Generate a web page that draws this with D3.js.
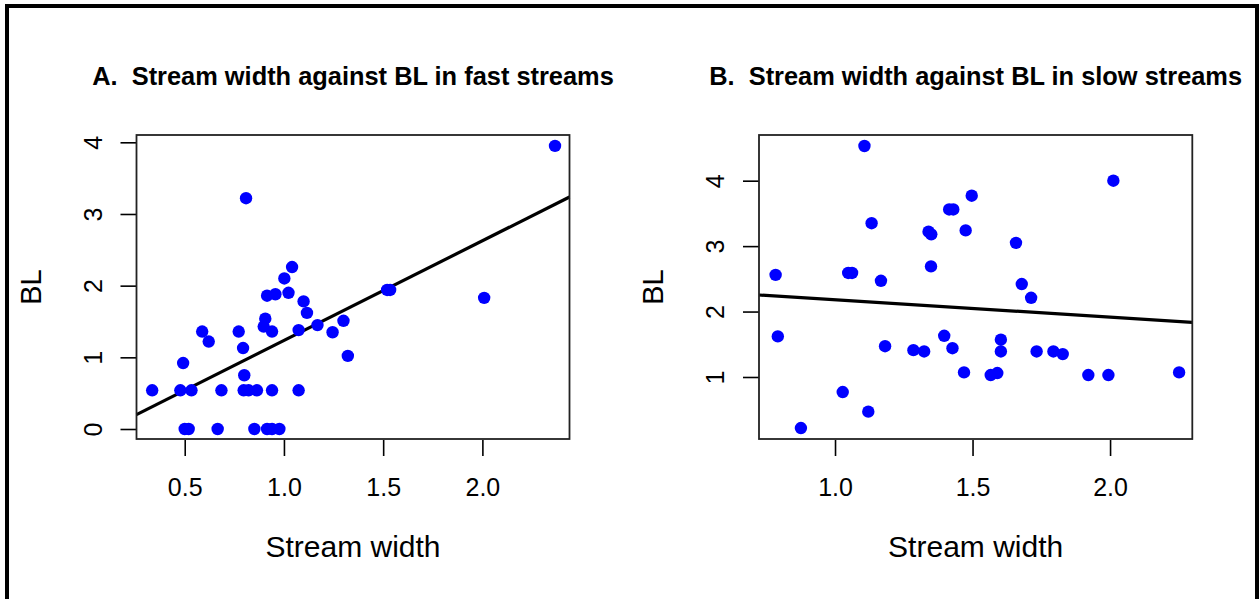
<!DOCTYPE html>
<html>
<head>
<meta charset="utf-8">
<script src="https://cdn.jsdelivr.net/npm/d3@7"></script>
<style>
  html, body { margin: 0; padding: 0; background: #fff; }
  svg { display: block; }
  text { font-family: "Liberation Sans", Arial, sans-serif; fill: #000; }
</style>
</head>
<body>
<svg id="chart" width="1260" height="599"></svg>
<script>
// ---- Data ----
const fastWidth = [0.809,1.041,1.002,1.023,0.915,0.957,1.099,1.116,0.906,0.898,0.940,1.074,0.588,0.621,0.772,0.794,0.492,0.800,
  0.336,0.478,0.534,0.685,0.797,0.822,0.864,0.940,1.074,
  0.500,0.520,0.666,0.851,0.915,0.940,0.977,
  2.366,1.520,1.535,2.009,1.169,1.300,1.245,1.322];
const fastBL = [3.22,2.26,2.10,1.90,1.86,1.88,1.78,1.62,1.54,1.43,1.36,1.38,1.36,1.22,1.36,1.13,0.92,0.75,
  0.54,0.54,0.54,0.54,0.54,0.54,0.54,0.54,0.54,
  0,0,0,0,0,0,0,
  3.95,1.94,1.94,1.83,1.45,1.51,1.35,1.02];
const fastIntercept = -0.156;
const fastSlope = 1.391;

const slowWidth = [1.107,1.497,1.415,1.430,1.133,1.340,1.350,1.475,1.349,0.784,1.048,1.062,1.167,0.792,1.182,1.285,1.324,1.397,1.427,1.469,1.028,1.121,0.876,
  2.012,1.658,1.679,1.713,1.603,1.603,1.733,1.794,1.828,1.566,1.590,1.921,1.994,2.251];
const slowBL = [4.53,3.77,3.56,3.56,3.35,3.22,3.18,3.24,2.69,2.56,2.59,2.59,2.47,1.62,1.47,1.41,1.39,1.63,1.44,1.07,0.77,0.47,0.22,
  4.00,3.05,2.42,2.21,1.57,1.39,1.39,1.39,1.35,1.03,1.06,1.03,1.03,1.07];
const slowIntercept = 2.445;
const slowSlope = -0.265;

const xTicksA = [0.5, 1.0, 1.5, 2.0];
const yTicksA = [0, 1, 2, 3, 4];
const xTicksB = [1.0, 1.5, 2.0];
const yTicksB = [1, 2, 3, 4];

const titleA = "A.  Stream width against BL in fast streams";
const titleB = "B.  Stream width against BL in slow streams";
const xLabel = "Stream width";
const yLabel = "BL";

// ---- Drawing ----
const svg = d3.select("#chart");

// outer frame
svg.append("rect").attr("x", 7).attr("y", 6).attr("width", 1250).attr("height", 640)
  .attr("fill", "none").attr("stroke", "#000").attr("stroke-width", 4);

function panel(cfg) {
  const x = d3.scaleLinear().domain(cfg.xDomain).range([cfg.left, cfg.right]);
  const y = d3.scaleLinear().domain(cfg.yDomain).range([cfg.bottom, cfg.top]);
  const g = svg.append("g");
  const cx = (cfg.left + cfg.right) / 2, cy = (cfg.top + cfg.bottom) / 2;

  // x axis
  const xAxis = d3.axisBottom(x).tickValues(cfg.xTicks).tickFormat(d3.format(".1f"))
    .tickSize(16).tickPadding(22);
  const gx = g.append("g").attr("transform", `translate(0,${cfg.bottom + 1})`).call(xAxis);
  gx.select(".domain").remove();
  gx.selectAll("line").attr("stroke", "#000").attr("stroke-width", 1.6);
  gx.selectAll("text").attr("font-size", 25).attr("font-family", "Liberation Sans, Arial, sans-serif").attr("fill", "#000");

  // y axis
  const yAxis = d3.axisLeft(y).tickValues(cfg.yTicks).tickFormat(d3.format("d")).tickSize(16);
  const gy = g.append("g").attr("transform", `translate(${cfg.left},0)`).call(yAxis);
  gy.select(".domain").remove();
  gy.selectAll("line").attr("stroke", "#000").attr("stroke-width", 1.6);
  gy.selectAll("text")
    .attr("font-size", 25).attr("font-family", "Liberation Sans, Arial, sans-serif").attr("fill", "#000")
    .attr("x", null).attr("y", null).attr("dy", null)
    .attr("text-anchor", "middle")
    .attr("transform", "translate(-35,0) rotate(-90)");

  // regression line
  const [x0, x1] = cfg.xDomain;
  g.append("line")
    .attr("x1", x(x0)).attr("y1", y(cfg.intercept + cfg.slope * x0))
    .attr("x2", x(x1)).attr("y2", y(cfg.intercept + cfg.slope * x1))
    .attr("stroke", "#000").attr("stroke-width", 3.2);

  // points
  g.append("g").selectAll("circle").data(cfg.xs.map((v, i) => [v, cfg.ys[i]])).join("circle")
    .attr("cx", d => x(d[0])).attr("cy", d => y(d[1])).attr("r", 6.2).attr("fill", "#0000ff");

  // box
  g.append("rect").attr("x", cfg.left).attr("y", cfg.top)
    .attr("width", cfg.right - cfg.left).attr("height", cfg.bottom - cfg.top)
    .attr("fill", "none").attr("stroke", "#222").attr("stroke-width", 1.8);

  // title
  g.append("text").attr("x", cx).attr("y", 85).attr("text-anchor", "middle")
    .style("white-space", "pre").attr("xml:space", "preserve")
    .attr("font-weight", "bold").attr("font-size", 25.4).text(cfg.title);

  // axis labels
  g.append("text").attr("x", cx).attr("y", 557).attr("text-anchor", "middle")
    .attr("font-size", 30).text(xLabel);
  g.append("text").attr("transform", `translate(${cfg.left - 96},${cy}) rotate(-90)`)
    .attr("text-anchor", "middle").attr("font-size", 29).text(yLabel);
}

panel({
  left: 136.5, right: 569.5, top: 135, bottom: 439,
  xDomain: [0.257, 2.439], yDomain: [-0.1395, 4.102],
  xTicks: xTicksA, yTicks: yTicksA,
  xs: fastWidth, ys: fastBL, intercept: fastIntercept, slope: fastSlope,
  title: titleA
});

panel({
  left: 759, right: 1192.3, top: 135, bottom: 439,
  xDomain: [0.7236, 2.299], yDomain: [0.0524, 4.698],
  xTicks: xTicksB, yTicks: yTicksB,
  xs: slowWidth, ys: slowBL, intercept: slowIntercept, slope: slowSlope,
  title: titleB
});
</script>
</body>
</html>
